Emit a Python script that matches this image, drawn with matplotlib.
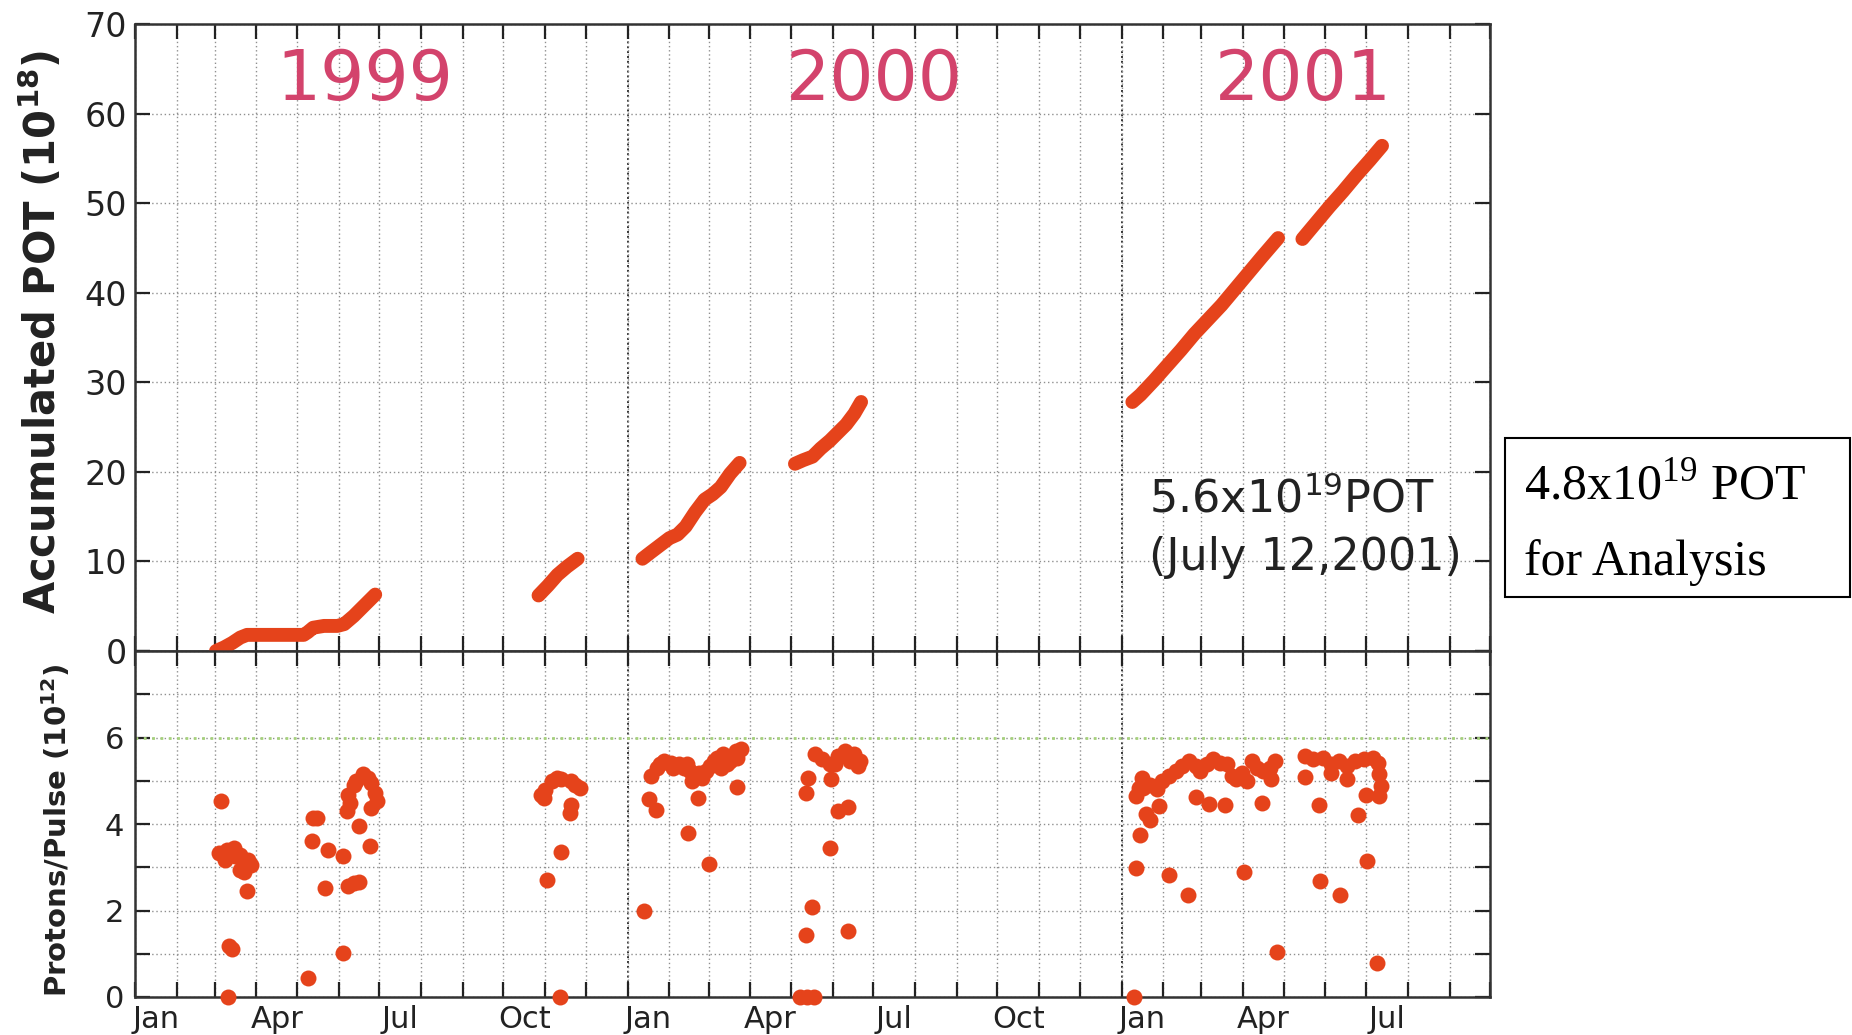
import numpy as np
import pandas as pd
import matplotlib
matplotlib.use('Agg')
import matplotlib.pyplot as plt
from matplotlib.patches import Rectangle
from matplotlib.ticker import FixedLocator, FixedFormatter

plt.rcParams['font.family'] = ['DejaVu Sans']
plt.rcParams['mathtext.fontset'] = 'custom'
plt.rcParams['mathtext.rm'] = 'Liberation Serif'
plt.rcParams['mathtext.sf'] = 'DejaVu Sans'
plt.rcParams['mathtext.bf'] = 'DejaVu Sans:bold'

# x values are days since 1999-01-01
start = pd.Timestamp('1999-01-01')
end = pd.Timestamp('2001-10-01')

# accumulated POT (10^18), one list pair per running period
seg1_day = [60, 66, 72, 78, 83, 95, 110, 125, 128, 132, 140, 150, 155, 162, 170, 178]
seg1_pot = [0.0, 0.4, 0.9, 1.5, 1.8, 1.8, 1.8, 1.8, 2.1, 2.6, 2.8, 2.8, 3.0, 3.9, 5.1, 6.3]
seg2_day = [299, 306, 313, 320, 328]
seg2_pot = [6.2, 7.3, 8.5, 9.4, 10.3]
seg3_day = [376, 382, 389, 396, 402, 408, 415, 422, 428, 434, 441, 448]
seg3_pot = [10.3, 11.0, 11.8, 12.6, 13.0, 13.9, 15.5, 16.9, 17.5, 18.3, 19.8, 21.0]
seg4_day = [489, 495, 502, 508, 515, 521, 527, 533, 538]
seg4_pot = [20.9, 21.3, 21.7, 22.6, 23.5, 24.4, 25.3, 26.5, 27.8]
seg5_day = [739, 745, 755, 765, 775, 785, 795, 805, 815, 825, 835, 847]
seg5_pot = [27.8, 28.6, 30.2, 31.9, 33.6, 35.4, 37.0, 38.6, 40.4, 42.2, 44.0, 46.1]
seg6_day = [865, 875, 885, 895, 905, 915, 924]
seg6_pot = [46.0, 47.8, 49.6, 51.3, 53.1, 54.8, 56.4]

# protons per pulse (10^12)
pp_day = [
    # Feb-Mar 1999
    64, 62, 68, 73, 67, 74, 78, 80, 84, 86, 78, 81, 83, 70, 72, 69,
    # Apr-Jun 1999
    132, 135, 131, 143, 141, 128, 154, 154, 158, 166, 162, 166, 174, 157,
    159, 162, 164, 169, 173, 175, 178, 179, 175, 158,
    # Oct-Nov 1999
    303, 304, 309, 313, 316, 323, 326, 330, 323, 322, 316, 305, 315, 301,
    # Jan-Mar 2000
    377, 381, 386, 382, 387, 389, 392, 397, 399, 403, 407, 409, 411, 413,
    418, 420, 423, 426, 429, 431, 434, 436, 439, 441, 445, 446, 449, 417,
    410, 425, 446,
    # Apr-Jun 2000
    493, 498, 503, 497, 502, 497, 499, 515, 516, 521, 528, 528, 504, 509,
    515, 519, 521, 526, 530, 533, 536, 537,
    # Jan-Apr 2001
    740, 742, 745, 749, 752, 742, 744, 746, 759, 766, 780, 786, 796, 808,
    822, 835, 846, 747, 752, 757, 761, 766, 771, 776, 781, 786, 789, 794,
    799, 804, 809, 813, 816, 820, 824, 828, 831, 836, 841, 842, 845,
    # Apr-Jul 2001
    867, 873, 880, 886, 892, 898, 904, 911, 917, 921, 922, 923, 922, 912,
    867, 886, 898, 877, 906, 913, 878, 893, 920,
]
pp_val = [
    4.54, 3.33, 3.40, 3.44, 3.17, 3.25, 3.29, 3.13, 3.17, 3.05, 2.94, 2.90, 2.46, 1.19, 1.10, 0.0,
    4.14, 4.14, 3.60, 3.40, 2.51, 0.44, 3.25, 1.02, 2.57, 2.67, 2.63, 3.95, 3.48, 4.30,
    4.49, 4.91, 4.99, 5.15, 5.07, 4.95, 4.72, 4.53, 4.37, 4.68,
    4.60, 4.79, 4.99, 5.07, 5.03, 4.99, 4.91, 4.84, 4.45, 4.26, 3.36, 2.71, 0.0, 4.68,
    1.98, 4.57, 4.33, 5.11, 5.30, 5.38, 5.45, 5.42, 5.30, 5.38, 5.30, 5.38, 5.22, 4.99,
    5.19, 5.07, 5.22, 5.34, 5.45, 5.53, 5.30, 5.61, 5.38, 5.45, 5.69, 5.53, 5.73, 4.59,
    3.79, 3.08, 4.86,
    0.0, 0.0, 0.0, 1.44, 2.08, 4.72, 5.07, 3.44, 5.03, 4.30, 4.39, 1.52, 5.61, 5.50,
    5.38, 5.38, 5.58, 5.69, 5.46, 5.61, 5.35, 5.46,
    0.0, 2.98, 3.74, 4.22, 4.10, 4.64, 4.84, 5.07, 4.41, 2.82, 2.36, 4.62, 4.47, 4.43,
    2.89, 4.49, 1.05, 4.84, 4.91, 4.80, 4.99, 5.11, 5.22, 5.34, 5.45, 5.34, 5.22, 5.38,
    5.50, 5.42, 5.38, 5.11, 5.03, 5.19, 4.99, 5.45, 5.30, 5.22, 5.30, 5.03, 5.45,
    5.57, 5.50, 5.53, 5.38, 5.45, 5.34, 5.45, 5.50, 5.53, 5.42, 5.15, 4.88, 4.64, 4.68,
    5.09, 5.19, 5.03, 4.43, 4.20, 3.15, 2.68, 2.36, 0.79,
]

label_months = ['1999-01', '1999-04', '1999-07', '1999-10', '2000-01', '2000-04',
                '2000-07', '2000-10', '2001-01', '2001-04', '2001-07']
label_names = ['Jan', 'Apr', 'Jul', 'Oct', 'Jan', 'Apr', 'Jul', 'Oct', 'Jan', 'Apr', 'Jul']
years = ['1999', '2000', '2001']
year_day = [170, 548, 866]

red = '#e5431b'
pink = '#d3436c'
grid_c = '#8f8f8f'
dot_ls = (0, (1, 2))

month_starts = pd.date_range(start, end, freq='MS')
month_day = (month_starts - start).days.values
lab_start = pd.to_datetime(label_months)
lab_mid = ((lab_start - start).days.values + (lab_start + pd.offsets.MonthBegin(1) - start).days.values) / 2
year_lines = [(pd.Timestamp('2000-01-01') - start).days, (pd.Timestamp('2001-01-01') - start).days]
xmax = (end - start).days

W, H = 1852, 1035
fig = plt.figure(figsize=(W / 100, H / 100), dpi=100)
L, R = 135, 1490
ax1 = fig.add_axes([L / W, 1 - 651 / H, (R - L) / W, (651 - 24) / H])
ax2 = fig.add_axes([L / W, 1 - 997 / H, (R - L) / W, (997 - 651) / H])

for ax in (ax1, ax2):
    ax.set_xlim(0, xmax)
    ax.xaxis.set_major_locator(FixedLocator(month_day))
    ax.grid(True, which='major', color=grid_c, ls=dot_ls, lw=1.0)
    for d in year_lines:
        ax.axvline(d, color='#333333', ls=(0, (1, 1.5)), lw=1.4, zorder=1)
    for s in ax.spines.values():
        s.set_color('#333333')
        s.set_linewidth(1.8)
    ax.tick_params(which='major', direction='in', length=11, width=1.6,
                   top=True, right=True, colors='#222222', labelbottom=False)

# upper panel
for dd, vv in [(seg1_day, seg1_pot), (seg2_day, seg2_pot), (seg3_day, seg3_pot),
               (seg4_day, seg4_pot), (seg5_day, seg5_pot), (seg6_day, seg6_pot)]:
    ax1.plot(dd, vv, color=red, lw=10, solid_capstyle='round', solid_joinstyle='round', zorder=3)
ax1.set_ylim(0, 70)
ax1.set_yticks(np.arange(0, 71, 10))
ax1.tick_params(axis='y', labelsize=24, pad=6)

for yr, d in zip(years, year_day):
    ax1.text(d, 61.5, yr, color=pink, fontsize=50, ha='center', va='baseline')

ax1.text(751, 15.5, r'5.6x10$^{\mathsf{19}}$POT', fontsize=32, ha='left', va='baseline', color='#222222')
ax1.text(751, 9.0, '(July 12,2001)', fontsize=32, ha='left', va='baseline', color='#222222')

# lower panel
ax2.plot(pp_day, pp_val, 'o', color=red, ms=11.5, mec='none', zorder=3, clip_on=False)
ax2.set_ylim(0, 8)
ax2.set_yticks(np.arange(0, 9, 1))
ax2.set_yticklabels(['0', '', '2', '', '4', '', '6', '', ''])
ax2.axhline(6, color='#a6d17c', ls=dot_ls, lw=2.0, zorder=2)
ax2.tick_params(axis='y', labelsize=22, pad=8)
ax2.xaxis.set_minor_locator(FixedLocator(lab_mid))
ax2.xaxis.set_minor_formatter(FixedFormatter(label_names))
ax2.tick_params(which='minor', length=0, labelsize=22, pad=6, colors='#222222')
ax2.tick_params(axis='x', which='minor', top=False)

fig.text(41 / W, 1 - 332 / H, r'Accumulated POT (10$^{\mathbf{18}}$)', rotation=90,
         ha='center', va='center', fontsize=30, fontweight='bold', color='#222222')
fig.text(57 / W, 1 - 830 / H, r'Protons/Pulse (10$^{\mathbf{12}}$)', rotation=90,
         ha='center', va='center', fontsize=21, fontweight='bold', color='#222222')

# box on the right
fig.add_artist(Rectangle((1505 / W, 1 - 597 / H), (1850 - 1505) / W, (597 - 438) / H,
                         transform=fig.transFigure, fill=False, lw=1.5, ec='black'))
fig.text(1524 / W, 1 - 500 / H, r'4.8x10$^{19}$ POT', family='Liberation Serif',
         fontsize=36, ha='left', va='baseline')
fig.text(1524 / W, 1 - 575 / H, 'for Analysis', family='Liberation Serif',
         fontsize=36, ha='left', va='baseline')

fig.savefig('out.png', dpi=100)
